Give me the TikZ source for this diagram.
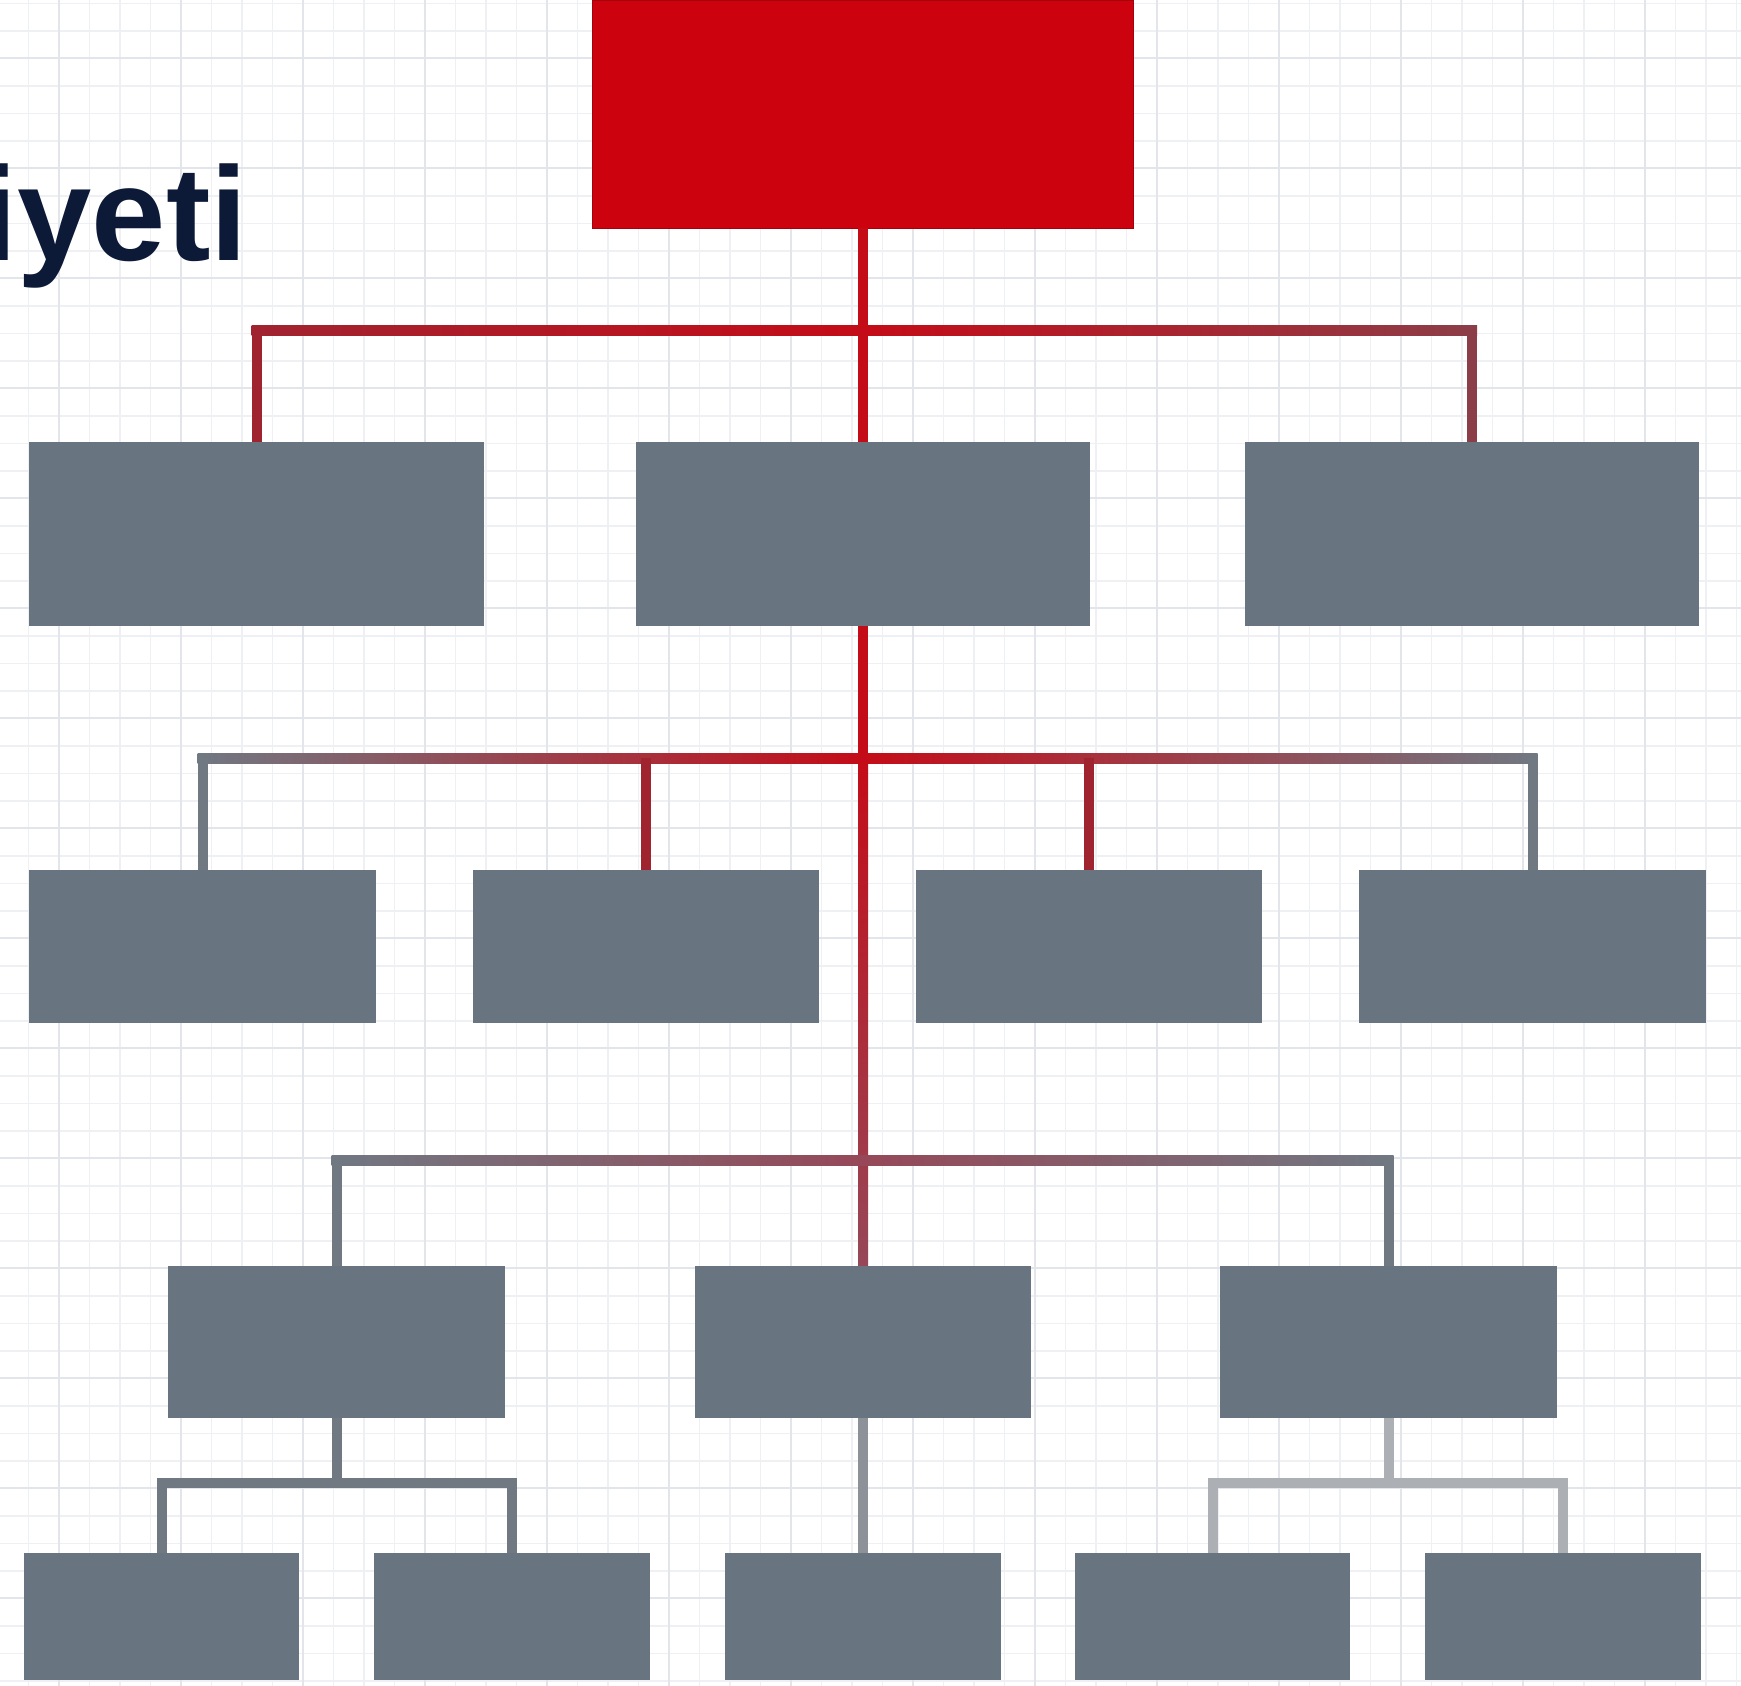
\documentclass[tikz,border=0pt]{standalone}
\usepackage{fontspec}
\setsansfont{Liberation Sans}
\usepackage{tikz}
\usetikzlibrary{positioning,calc}

\definecolor{chartred}{RGB}{204,2,15}
\definecolor{boxgray}{RGB}{104,116,127}
\definecolor{linered}{RGB}{196,12,24}
\definecolor{linemaroon}{RGB}{160,36,48}
\definecolor{linedusk}{RGB}{140,62,72}
\definecolor{linemauve}{RGB}{150,72,88}
\definecolor{linegray}{RGB}{112,120,130}
\definecolor{linemid}{RGB}{140,146,152}
\definecolor{linelight}{RGB}{172,176,181}
\definecolor{titlenavy}{RGB}{12,26,56}
\definecolor{gridminor}{RGB}{238,240,243}
\definecolor{gridmajor}{RGB}{226,229,234}

\tikzset{
  unitbox/.style={rectangle, fill=boxgray, inner sep=0pt},
  headbox/.style={rectangle, fill=chartred, draw=chartred!80!black, thin, inner sep=0pt, minimum width=10.82cm, minimum height=4.56cm},
  lvlone/.style={unitbox, minimum width=9.1cm, minimum height=3.68cm},
  lvltwo/.style={unitbox, minimum width=6.94cm, minimum height=3.06cm},
  lvlthree/.style={unitbox, minimum width=6.74cm, minimum height=3.04cm},
  lvlfour/.style={unitbox, minimum width=5.52cm, minimum height=2.54cm},
  link/.style={line width=0.2cm},
}

\begin{document}
\begin{tikzpicture}[x=0.02cm,y=-0.02cm]

\useasboundingbox (0,0) rectangle (1741,1686);
\fill[white] (0,0) rectangle (1741,1686);

% paper grid
\foreach \gx in {-1,...,56}
  \draw[gridminor, line width=0.03cm] ({28.5+30.5*\gx},0) -- ({28.5+30.5*\gx},1686);
\foreach \gy in {0,...,61}
  \draw[gridminor, line width=0.03cm] (0,{3.3+27.5*\gy}) -- (1741,{3.3+27.5*\gy});
\foreach \gx in {1,5,...,57}
  \draw[gridmajor, line width=0.04cm] ({28.5+30.5*\gx},0) -- ({28.5+30.5*\gx},1686);
\foreach \gy in {2,6,...,58}
  \draw[gridmajor, line width=0.04cm] (0,{3.3+27.5*\gy}) -- (1741,{3.3+27.5*\gy});

% title
\node[anchor=base east, inner sep=0pt, text=titlenavy, font=\sffamily\bfseries\fontsize{76}{80}\selectfont] (title) at (248,260) {iyeti};

% boxes
\node[headbox] (head) at (863,114) {};

\node[lvlone] (oneL) at (256.5,534) {};
\node[lvlone] (oneM) at (863,534) {};
\node[lvlone] (oneR) at (1472,534) {};

\node[lvltwo] (twoA) at (202.5,946.5) {};
\node[lvltwo] (twoB) at (646,946.5) {};
\node[lvltwo] (twoC) at (1089,946.5) {};
\node[lvltwo] (twoD) at (1532.5,946.5) {};

\node[lvlthree] (threeE) at (336.5,1342) {};
\node[lvlthree] (threeF) at (863,1342) {};
\node[lvlthree] (threeG) at (1388.5,1342) {};

\node[lvlfour] (fourH) at (161.5,1616.5) {};
\node[lvlfour] (fourI) at (512,1616.5) {};
\node[lvlfour] (fourJ) at (863,1616.5) {};
\node[lvlfour] (fourK) at (1212.5,1616.5) {};
\node[lvlfour] (fourL) at (1563,1616.5) {};

% bus points
\coordinate (busone) at (863,330);
\coordinate (bustwo) at (863,758);
\coordinate (busthree) at (863,1160);
\coordinate (busE) at (336.5,1483);
\coordinate (busG) at (1388.5,1483);

% level one
\draw[link, linered] (head.south) -- (oneM.north);
\shade[left color=linemaroon, right color=linered] ($(oneL.north |- busone)+(-5,-5)$) rectangle ($(busone)+(0,5)$);
\shade[left color=linered, right color=linedusk] ($(busone)+(0,-5)$) rectangle ($(oneR.north |- busone)+(5,5)$);
\draw[link, linemaroon] (oneL.north |- busone) -- (oneL.north);
\draw[link, linedusk] (oneR.north |- busone) -- (oneR.north);

% level two
\draw[link, linered] (oneM.south) -- (bustwo);
\shade[left color=linegray, right color=linered] ($(twoA.north |- bustwo)+(-5,-5)$) rectangle ($(bustwo)+(0,5)$);
\shade[left color=linered, right color=linegray] ($(bustwo)+(0,-5)$) rectangle ($(twoD.north |- bustwo)+(5,5)$);
\draw[link, linegray] (twoA.north |- bustwo) -- (twoA.north);
\draw[link, linemaroon] (twoB.north |- bustwo) -- (twoB.north);
\draw[link, linemaroon] (twoC.north |- bustwo) -- (twoC.north);
\draw[link, linegray] (twoD.north |- bustwo) -- (twoD.north);

% level three
\shade[top color=linered, bottom color=linemauve] ($(bustwo)+(-5,0)$) rectangle ($(threeF.north)+(5,0)$);
\shade[left color=linegray, right color=linemauve] ($(threeE.north |- busthree)+(-5,-5)$) rectangle ($(busthree)+(0,5)$);
\shade[left color=linemauve, right color=linegray] ($(busthree)+(0,-5)$) rectangle ($(threeG.north |- busthree)+(5,5)$);
\draw[link, linegray] (threeE.north |- busthree) -- (threeE.north);
\draw[link, linegray] (threeG.north |- busthree) -- (threeG.north);

% level four
\draw[link, linegray] (threeE.south) -- (busE);
\draw[link, linegray, line cap=rect] (fourH.north |- busE) -- (fourI.north |- busE);
\draw[link, linegray] (fourH.north |- busE) -- (fourH.north);
\draw[link, linegray] (fourI.north |- busE) -- (fourI.north);

\draw[link, linemid] (threeF.south) -- (fourJ.north);

\draw[link, linelight] (threeG.south) -- (busG);
\draw[link, linelight, line cap=rect] (fourK.north |- busG) -- (fourL.north |- busG);
\draw[link, linelight] (fourK.north |- busG) -- (fourK.north);
\draw[link, linelight] (fourL.north |- busG) -- (fourL.north);

\end{tikzpicture}
\end{document}
